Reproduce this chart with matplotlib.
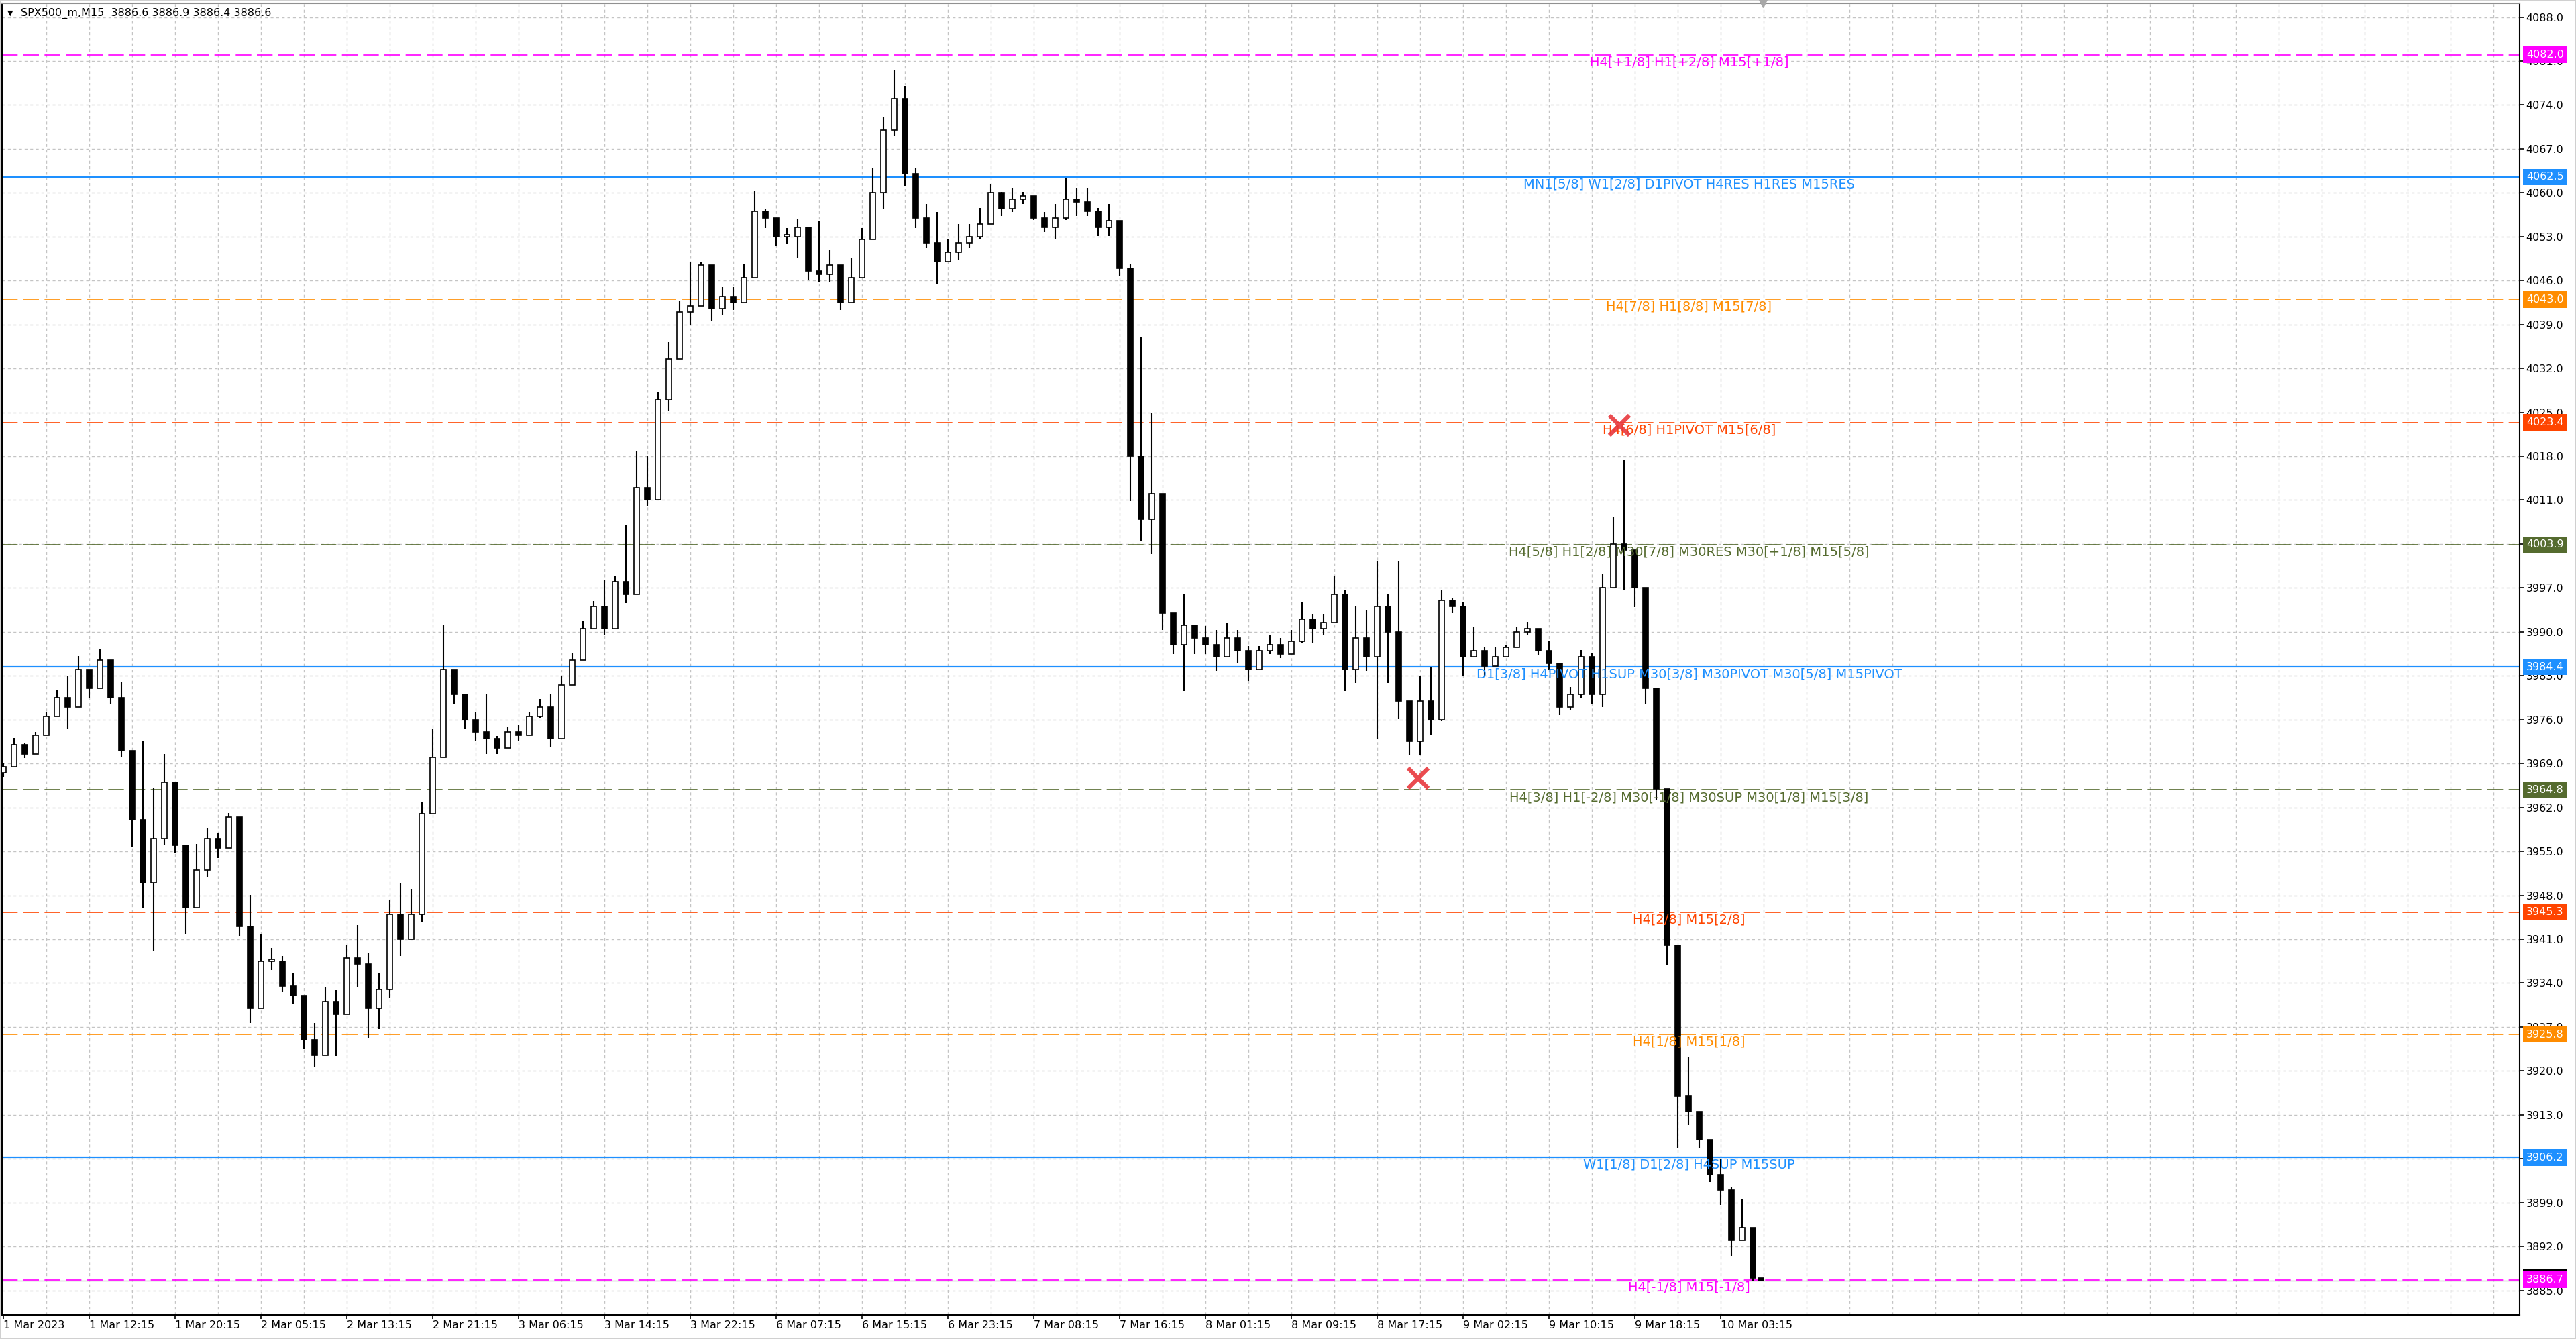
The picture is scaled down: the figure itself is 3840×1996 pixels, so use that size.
import numpy as np
import matplotlib
matplotlib.use("Agg")
import matplotlib.pyplot as plt
import matplotlib.transforms as mtransforms

# price samples, one every 4 bars (M15)
highs = [
    3969.1, 3973.1, 3972.2, 3974.0, 3977.1, 3980.7, 3983.0, 3986.1, 3983.4, 3987.2,
    3985.4, 3982.1, 3971.0, 3972.5, 3965.1, 3970.5, 3966.0, 3956.0, 3956.2, 3958.8,
    3957.9, 3961.1, 3960.5, 3948.1, 3941.9, 3939.6, 3938.3, 3935.6, 3932.0, 3927.6,
    3933.4, 3932.9, 3940.1, 3943.2, 3938.7, 3935.6, 3947.2, 3949.9, 3949.0, 3962.9,
    3974.5, 3991.0, 3984.0, 3980.0, 3977.1, 3980.0, 3973.4, 3974.9, 3975.2, 3977.1,
    3979.3, 3980.0, 3982.9, 3986.6, 3991.7, 3994.9, 3998.2, 3999.0, 4007.0, 4018.7,
    4018.0, 4028.2, 4036.2, 4042.8, 4049.0, 4049.0, 4048.5, 4045.0, 4045.0, 4048.6,
    4060.3, 4057.4, 4056.0, 4054.4, 4055.9, 4054.5, 4055.5, 4050.8, 4048.5, 4049.7,
    4054.4, 4064.0, 4072.0, 4079.6, 4077.0, 4064.0, 4058.2, 4056.9, 4052.5, 4055.0,
    4055.0, 4057.6, 4061.4, 4060.1, 4060.8, 4060.1, 4059.5, 4056.9, 4058.2, 4062.4,
    4060.8, 4060.8, 4057.6, 4058.2, 4055.5, 4048.6, 4037.0, 4024.9, 4012.0, 3993.0,
    3996.0, 3991.0, 3990.9, 3990.3, 3991.5, 3990.3, 3987.7, 3987.7, 3989.6, 3989.0,
    3990.3, 3994.7, 3992.8, 3992.8, 3998.9, 3996.7, 3994.1, 3993.5, 4001.2, 3996.0,
    4001.2, 3979.0, 3983.0, 3984.4, 3996.6, 3995.3, 3994.8, 3990.7, 3987.6, 3987.6,
    3988.0, 3990.7, 3991.6, 3990.5, 3988.5, 3985.0, 3981.2, 3987.1, 3986.6, 3999.3,
    4008.4, 4017.5, 4003.0, 3997.0, 3981.0, 3965.0, 3940.0, 3922.2, 3913.5, 3909.0,
    3905.9, 3901.4, 3899.6, 3895.0, 3886.9]

lows = [
    3966.9, 3968.9, 3969.9, 3972.0, 3974.5, 3977.6, 3974.5, 3978.9, 3979.4, 3984.3,
    3978.5, 3970.0, 3955.7, 3945.9, 3939.2, 3956.0, 3954.8, 3941.9, 3946.0, 3950.8,
    3953.9, 3955.5, 3941.4, 3927.6, 3930.0, 3936.1, 3932.5, 3930.7, 3923.6, 3920.7,
    3922.5, 3922.4, 3929.0, 3933.4, 3925.3, 3926.7, 3931.6, 3938.3, 3941.0, 3943.7,
    3961.0, 3970.0, 3978.5, 3974.5, 3972.7, 3970.5, 3970.5, 3971.5, 3972.7, 3973.5,
    3976.3, 3971.6, 3973.0, 3981.5, 3985.5, 3990.5, 3989.5, 3990.5, 3994.6, 3996.0,
    4010.0, 4011.0, 4025.2, 4033.5, 4039.0, 4042.0, 4039.5, 4040.6, 4041.3, 4042.5,
    4046.5, 4054.4, 4051.5, 4051.9, 4049.7, 4046.0, 4045.7, 4045.7, 4041.3, 4042.5,
    4046.5, 4052.5, 4057.4, 4069.0, 4061.0, 4054.4, 4051.2, 4045.4, 4049.0, 4049.2,
    4051.2, 4052.5, 4055.0, 4056.3, 4056.9, 4058.2, 4055.7, 4053.7, 4052.5, 4055.7,
    4056.3, 4056.3, 4053.1, 4053.1, 4046.7, 4010.8, 4004.4, 4002.4, 3990.3, 3986.4,
    3980.6, 3986.4, 3986.4, 3983.8, 3986.0, 3985.1, 3982.2, 3984.0, 3986.4, 3985.8,
    3986.4, 3988.3, 3988.3, 3989.6, 3991.5, 3980.6, 3981.9, 3983.8, 3973.0, 3981.9,
    3976.1, 3970.4, 3970.3, 3973.5, 3975.8, 3993.0, 3983.0, 3986.0, 3983.0, 3984.5,
    3986.0, 3987.5, 3989.4, 3986.2, 3984.0, 3976.7, 3977.6, 3979.4, 3978.5, 3978.0,
    3997.0, 3996.6, 3993.9, 3978.5, 3963.1, 3936.8, 3907.7, 3911.4, 3907.7, 3902.3,
    3898.6, 3890.5, 3893.0, 3886.4, 3886.4]

closes = [
    3968.5, 3972.0, 3970.5, 3973.5, 3976.5, 3979.5, 3978.0, 3984.0, 3981.0, 3985.5,
    3979.5, 3971.0, 3960.0, 3950.0, 3957.0, 3966.0, 3956.0, 3946.0, 3952.0, 3957.0,
    3955.5, 3960.5, 3943.0, 3930.0, 3937.5, 3937.5, 3933.5, 3932.0, 3925.0, 3922.5,
    3931.0, 3929.0, 3938.0, 3937.0, 3930.0, 3933.0, 3945.0, 3941.0, 3945.0, 3961.0,
    3970.0, 3984.0, 3980.0, 3976.0, 3974.0, 3973.0, 3971.5, 3974.0, 3973.5, 3976.5,
    3978.0, 3973.0, 3981.5, 3985.5, 3990.5, 3994.0, 3990.5, 3998.0, 3996.0, 4013.0,
    4011.0, 4027.0, 4033.5, 4041.0, 4042.0, 4048.5, 4041.5, 4043.5, 4042.5, 4046.5,
    4057.0, 4056.0, 4053.0, 4053.0, 4054.5, 4047.5, 4047.0, 4048.5, 4042.5, 4046.5,
    4052.5, 4060.0, 4070.0, 4075.0, 4063.0, 4056.0, 4052.0, 4049.0, 4050.5, 4052.0,
    4053.0, 4055.0, 4060.0, 4057.5, 4059.0, 4059.5, 4056.0, 4054.5, 4056.0, 4059.0,
    4058.5, 4057.0, 4054.5, 4055.5, 4048.0, 4018.0, 4008.0, 4012.0, 3993.0, 3988.0,
    3991.0, 3989.0, 3988.0, 3986.0, 3989.0, 3987.0, 3984.0, 3987.0, 3988.0, 3986.5,
    3988.5, 3992.0, 3990.5, 3991.5, 3996.0, 3984.0, 3989.0, 3986.0, 3994.0, 3990.0,
    3979.0, 3972.5, 3979.0, 3976.0, 3995.0, 3994.0, 3986.0, 3987.0, 3984.5, 3986.0,
    3987.5, 3990.0, 3990.5, 3987.0, 3985.0, 3978.0, 3980.0, 3986.0, 3980.0, 3997.0,
    4004.0, 4003.0, 3997.0, 3981.0, 3965.0, 3940.0, 3916.0, 3913.5, 3909.0, 3903.5,
    3901.0, 3893.0, 3895.0, 3887.0, 3886.6]

first_open = 3967.5
bar_idx = list(range(0, 653, 4)) + [655]

time_labels = ["1 Mar 2023", "1 Mar 12:15", "1 Mar 20:15", "2 Mar 05:15", "2 Mar 13:15",
               "2 Mar 21:15", "3 Mar 06:15", "3 Mar 14:15", "3 Mar 22:15", "6 Mar 07:15",
               "6 Mar 15:15", "6 Mar 23:15", "7 Mar 08:15", "7 Mar 16:15", "8 Mar 01:15",
               "8 Mar 09:15", "8 Mar 17:15", "9 Mar 02:15", "9 Mar 10:15", "9 Mar 18:15",
               "10 Mar 03:15"]

level_prices = [4082.0, 4062.5, 4043.0, 4023.4, 4003.9, 3984.4, 3964.8, 3945.3, 3925.8, 3906.2, 3886.7]
level_texts = ["H4[+1/8] H1[+2/8] M15[+1/8]",
               "MN1[5/8] W1[2/8] D1PIVOT H4RES H1RES M15RES",
               "H4[7/8] H1[8/8] M15[7/8]",
               "H4[6/8] H1PIVOT M15[6/8]",
               "H4[5/8] H1[2/8] M30[7/8] M30RES M30[+1/8] M15[5/8]",
               "D1[3/8] H4PIVOT H1SUP M30[3/8] M30PIVOT M30[5/8] M15PIVOT",
               "H4[3/8] H1[-2/8] M30[-1/8] M30SUP M30[1/8] M15[3/8]",
               "H4[2/8] M15[2/8]",
               "H4[1/8] M15[1/8]",
               "W1[1/8] D1[2/8] H4SUP M15SUP",
               "H4[-1/8] M15[-1/8]"]
level_colors = ["#ff00ff", "#1e90ff", "#ff8c00", "#ff4500", "#556b2f", "#1e90ff",
                "#556b2f", "#ff4500", "#ff8c00", "#1e90ff", "#ff00ff"]
level_solid = [False, True, False, False, False, True, False, False, False, True, False]

signal_bars = [527.3, 602.2]
signal_prices = [3966.7, 4022.9]

title = "SPX500_m,M15  3886.6 3886.9 3886.4 3886.6"

W, H = 3840, 1996
fig = plt.figure(figsize=(W / 100, H / 100), dpi=100)
fig.patch.set_facecolor("white")
ax = fig.add_axes([3 / W, 36 / H, 3753 / W, 1955.5 / H])
ax.set_xlim(-0.5, 937.75)
ax.set_ylim(3881.1, 4090.25)

# grid
grid_kw = dict(color="#c4c4c4", lw=1.0, ls=(0, (3, 3)), zorder=0)
for p in np.arange(3885, 4089, 7):
    ax.axhline(p, **grid_kw)
for b in range(16, 938, 16):
    ax.axvline(b, **grid_kw)

# level lines
for p, c, solid in zip(level_prices, level_colors, level_solid):
    if solid:
        ax.axhline(p, color=c, lw=1.6, zorder=1)
    else:
        ax.axhline(p, color=c, lw=1.2, ls=(0, (14, 5)), zorder=1)
ax.axhline(closes[-1], color="#b0b0b0", lw=1.0, zorder=0.9)

# candles
opens = [first_open] + closes[:-1]
o = np.array(opens)
c = np.array(closes)
hi = np.maximum(np.array(highs), np.maximum(o, c))
lo = np.minimum(np.array(lows), np.minimum(o, c))
x = np.array(bar_idx)
ax.vlines(x, lo, hi, color="black", lw=1.5, zorder=3)
up = c >= o
body = np.maximum(np.abs(c - o), 0.25)
ax.bar(x[up], body[up], bottom=o[up], width=2.0, color="white",
       edgecolor="black", linewidth=1.2, zorder=4)
ax.bar(x[~up], body[~up], bottom=c[~up], width=2.0, color="black",
       edgecolor="black", linewidth=1.2, zorder=4)

# level labels on chart
label_bar = 628.25
for p, t, col in zip(level_prices, level_texts, level_colors):
    ax.annotate(t, xy=(label_bar, p), xytext=(0, -8), textcoords="offset points",
                ha="center", va="center", color=col, fontsize=14, zorder=5)

# signal crosses
ax.plot(signal_bars, signal_prices, "x", ms=22, mew=4.5, color="#e8383d",
        alpha=0.9, zorder=6)

# axes styling
for s in ax.spines.values():
    s.set_color("black")
    s.set_linewidth(1.5)
ax.spines["top"].set_color("#909090")

ax.yaxis.tick_right()
ax.set_yticks(np.arange(3885, 4089, 7))
ax.set_yticklabels([f"{v:.1f}" for v in np.arange(3885, 4089, 7)])
ax.tick_params(axis="y", length=4, width=1.2, pad=3, labelsize=11.5, colors="black")

ax.set_xticks(range(0, 641, 32))
ax.set_xticklabels(time_labels, ha="left")
ax.tick_params(axis="x", length=4, width=1.2, pad=2, labelsize=11.5)

# price boxes on the right scale
blend = mtransforms.blended_transform_factory(ax.transAxes, ax.transData)
ax.annotate(f"{closes[-1]:.1f}", xy=(1.0027, closes[-1]), xycoords=blend,
            xytext=(0, 3), textcoords="offset points", ha="left", va="center",
            color="white", fontsize=11.5, annotation_clip=False, zorder=7,
            bbox=dict(boxstyle="square,pad=0.3", fc="black", ec="none"))
for p, col in zip(level_prices, level_colors):
    ax.text(1.0027, p, f"{p:.1f}", transform=blend, ha="left", va="center",
            color="white", fontsize=11.5, clip_on=False, zorder=8,
            bbox=dict(boxstyle="square,pad=0.3", fc=col, ec="none"))

# header
fig.text(11 / W, 1 - 20 / H, "\u25bc", fontsize=8, va="center", ha="left")
fig.text(31 / W, 1 - 20 / H, title, fontsize=11.5, va="center", ha="left")
ax.plot([(2628 - 3) / 3753], [1.0], marker="v", ms=9, color="#a8a8a8",
        transform=ax.transAxes, clip_on=False, zorder=9)

fig.patch.set_edgecolor("#d0d0d0")
fig.patch.set_linewidth(2)

fig.savefig("out.png", dpi=100, facecolor=fig.get_facecolor(), edgecolor=fig.get_edgecolor())
